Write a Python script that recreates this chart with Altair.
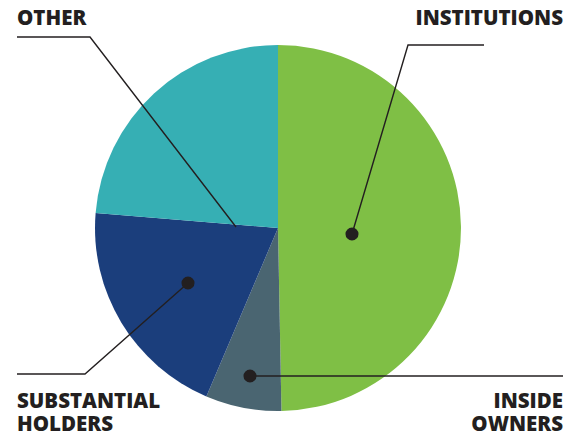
import altair as alt
import pandas as pd

# Slice data (percent of shares)
categories = ["INSTITUTIONS", "INSIDE OWNERS", "SUBSTANTIAL HOLDERS", "OTHER"]
shares = [49.7, 6.7, 19.9, 23.7]
colors = ["#7FBF45", "#4A6571", "#1B3E7C", "#36AFB4"]

# Label text lines and layout
label_text = ["INSTITUTIONS", "INSIDE", "OWNERS", "SUBSTANTIAL", "HOLDERS", "OTHER"]
label_x = [555, 555, 555, 9, 9, 9]
label_y = [17, 400, 423, 400, 423, 17]
label_align = ["right", "right", "right", "left", "left", "left"]

# Leader line vertices (pixel layout), first point is the dot for most labels
leader_pts = [
    [(344, 226), (400, 37), (476, 37)],
    [(242, 368), (555, 368)],
    [(180, 275), (77, 366), (9, 366)],
    [(228, 219), (82, 29), (9, 29)],
]
has_dot = [True, True, True, False]

W, H = 560, 427
CX, CY, R = 270, 220, 183

pie_df = pd.DataFrame({"cat": categories, "share": shares, "ord": list(range(len(categories)))})

pie = alt.Chart(pie_df).mark_arc(radius=R, stroke=None).encode(
    theta=alt.Theta("share:Q", stack=True),
    order=alt.Order("ord:Q"),
    color=alt.Color("cat:N", scale=alt.Scale(domain=categories, range=colors), legend=None),
    x=alt.value(CX),
    y=alt.value(CY),
)

xs = alt.Scale(domain=[0, W], range=[0, W])
ys = alt.Scale(domain=[0, H], range=[0, H])

line_rows = []
for i, pts in enumerate(leader_pts):
    for j, (px, py) in enumerate(pts):
        line_rows.append({"cat": categories[i], "k": j, "px": px, "py": py})
line_df = pd.DataFrame(line_rows)

lines = alt.Chart(line_df).mark_line(color="#231F20", strokeWidth=1.4).encode(
    x=alt.X("px:Q", scale=xs, axis=None),
    y=alt.Y("py:Q", scale=ys, axis=None),
    detail="cat:N",
    order="k:Q",
)

dot_df = pd.DataFrame([
    {"cat": categories[i], "px": leader_pts[i][0][0], "py": leader_pts[i][0][1]}
    for i in range(len(categories)) if has_dot[i]
])
dots = alt.Chart(dot_df).mark_circle(color="#231F20", opacity=1, size=170).encode(
    x=alt.X("px:Q", scale=xs, axis=None),
    y=alt.Y("py:Q", scale=ys, axis=None),
)

text_layers = []
for al in ["left", "right"]:
    tdf = pd.DataFrame({
        "px": [x for x, a in zip(label_x, label_align) if a == al],
        "py": [y for y, a in zip(label_y, label_align) if a == al],
        "t": [t for t, a in zip(label_text, label_align) if a == al],
    })
    text_layers.append(
        alt.Chart(tdf).mark_text(
            align=al, baseline="alphabetic", font="Open Sans", fontWeight=800,
            fontSize=20.5, color="#231F20",
        ).encode(
            x=alt.X("px:Q", scale=xs, axis=None),
            y=alt.Y("py:Q", scale=ys, axis=None),
            text="t:N",
        )
    )

chart = alt.layer(pie, lines, dots, *text_layers).properties(
    width=W, height=H, autosize=alt.AutoSizeParams(type="none"), padding=0,
).configure_view(stroke=None)

chart.save("out.html", embed_options={"renderer": "svg", "actions": False})
